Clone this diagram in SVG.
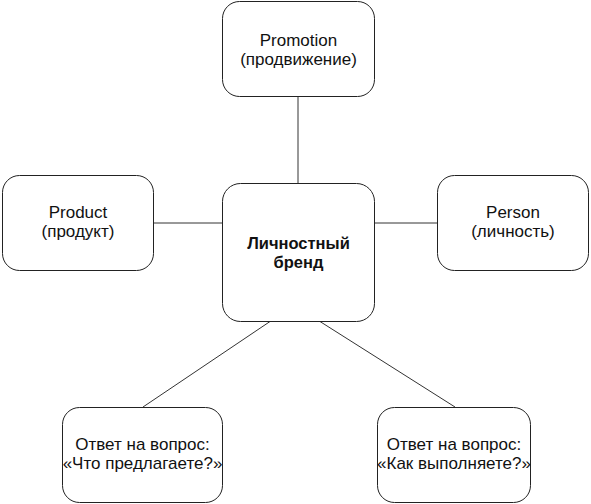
<svg xmlns="http://www.w3.org/2000/svg" width="591" height="504" viewBox="0 0 591 504">
<style>
.box{fill:#fff;stroke:#222;stroke-width:1}
.con{stroke:#333;stroke-width:1;fill:none}
.t{font-family:"Liberation Sans",Arial,sans-serif;font-size:17px;fill:#111;text-anchor:middle}
.b{font-weight:bold;font-size:16.5px}
</style>
<rect width="591" height="504" fill="#fff"/>
<g id="connectors">
<line class="con" x1="298" y1="96.5" x2="298" y2="183"/>
<line class="con" x1="154" y1="223" x2="222" y2="223"/>
<line class="con" x1="375" y1="223" x2="437" y2="223"/>
<line class="con" x1="270" y1="321.5" x2="143" y2="407"/>
<line class="con" x1="320" y1="321.5" x2="455" y2="407"/>
</g>
<g id="promotion">
<rect class="box" x="222.5" y="1.5" width="152" height="95" rx="17"/>
<text class="t" x="298.5" y="46">Promotion</text>
<text class="t" x="298.5" y="65">(продвижение)</text>
</g>
<g id="brand">
<rect class="box" x="222.5" y="183.5" width="152" height="138" rx="18"/>
<text class="t b" x="298.5" y="249">Личностный</text>
<text class="t b" x="298.5" y="268">бренд</text>
</g>
<g id="product">
<rect class="box" x="2.5" y="175.5" width="151" height="95" rx="17"/>
<text class="t" x="78" y="218">Product</text>
<text class="t" x="78" y="237">(продукт)</text>
</g>
<g id="person">
<rect class="box" x="437.5" y="175.5" width="151" height="95" rx="17"/>
<text class="t" x="513" y="218">Person</text>
<text class="t" x="513" y="237">(личность)</text>
</g>
<g id="offer">
<rect class="box" x="62.5" y="407.5" width="160" height="95" rx="17"/>
<text class="t" x="142.5" y="450">Ответ на вопрос:</text>
<text class="t" x="142.5" y="469">«Что предлагаете?»</text>
</g>
<g id="how">
<rect class="box" x="377.5" y="407.5" width="153" height="95" rx="17"/>
<text class="t" x="454" y="450">Ответ на вопрос:</text>
<text class="t" x="454" y="469">«Как выполняете?»</text>
</g>
</svg>
